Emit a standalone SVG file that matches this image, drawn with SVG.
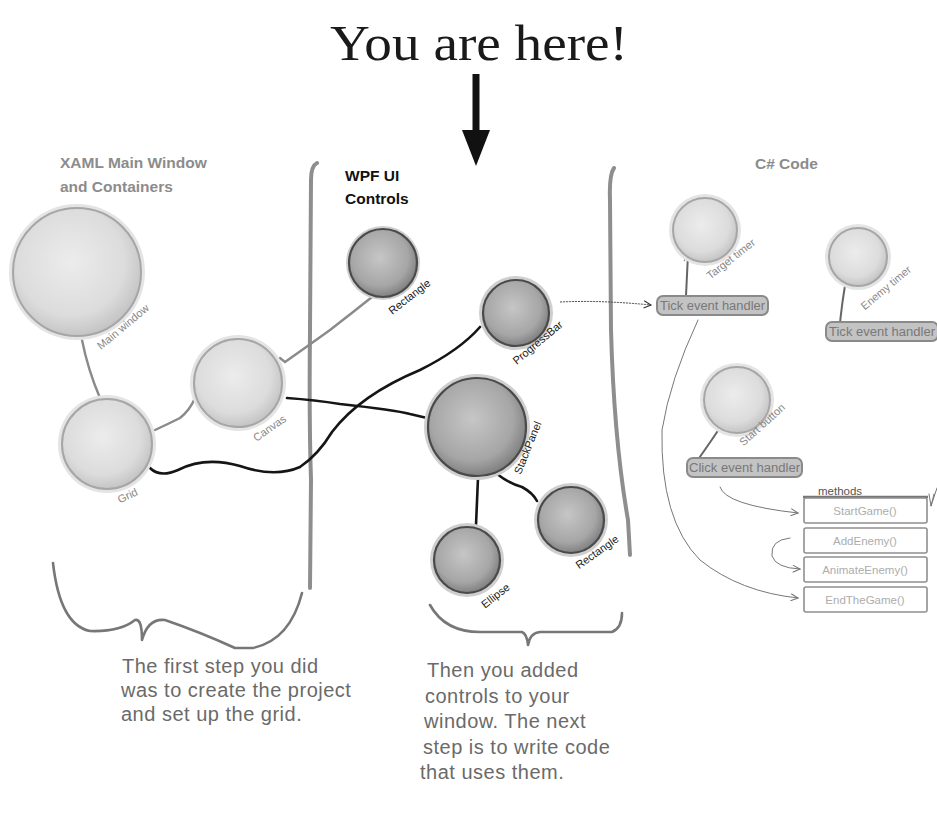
<svg xmlns="http://www.w3.org/2000/svg" width="937" height="815" viewBox="0 0 937 815">
<style>
.title{font-family:"Liberation Serif","Times New Roman",serif;font-size:50px;fill:#1a1a1a}
.hdr{font-family:"Liberation Sans",Arial,sans-serif;font-weight:bold;font-size:15.5px}
.hg{fill:#8c8c8c}
.hk{fill:#111}
.lbl{font-family:"Liberation Sans",Arial,sans-serif;font-size:11px;text-anchor:middle}
.lg{fill:#888}
.lk{fill:#1a1a1a}
.note{font-family:"Liberation Sans",Arial,sans-serif;font-size:20px;fill:#6a6a6a;letter-spacing:0.5px}
.halo{fill:#e4e4e4}
.light{fill:url(#lightG);stroke:#a6a6a6;stroke-width:2}
.dhalo{fill:#cfcfcf}
.dark{fill:url(#darkG);stroke:#4a4a4a;stroke-width:2.2}
.div{fill:none;stroke:#8e8e8e;stroke-width:4;stroke-linecap:round}
.brace{fill:none;stroke:#777;stroke-width:2.6;stroke-linecap:round;stroke-linejoin:round}
.cg{fill:none;stroke:#8a8a8a;stroke-width:2.4;stroke-linecap:round}
.ck{fill:none;stroke:#151515;stroke-width:2.6;stroke-linecap:round}
.cd{fill:none;stroke:#666;stroke-width:2;stroke-linecap:round}
.thin{fill:none;stroke:#777;stroke-width:1;stroke-linecap:round}
.hbox{fill:#c3c3c3;stroke:#8a8a8a;stroke-width:2}
.htxt{font-family:"Liberation Sans",Arial,sans-serif;font-size:12.5px;fill:#787878}
.mbox{fill:#fff;stroke:#8f8f8f;stroke-width:1.6}
.mtxt{font-family:"Liberation Sans",Arial,sans-serif;font-size:11.5px;fill:#adadad;text-anchor:middle}
</style>
<defs>
<radialGradient id="lightG" cx="45%" cy="42%" r="60%">
<stop offset="0" stop-color="#ececec"/>
<stop offset="0.7" stop-color="#dcdcdc"/>
<stop offset="1" stop-color="#c2c2c2"/>
</radialGradient>
<radialGradient id="darkG" cx="45%" cy="42%" r="60%">
<stop offset="0" stop-color="#c6c6c6"/>
<stop offset="0.7" stop-color="#a6a6a6"/>
<stop offset="1" stop-color="#7c7c7c"/>
</radialGradient>
<marker id="openArr" viewBox="0 0 10 10" refX="9" refY="5" markerWidth="9" markerHeight="9" orient="auto" markerUnits="userSpaceOnUse">
<path d="M1,1 L9,5 L1,9" fill="none" stroke="#777" stroke-width="1.2"/>
</marker>
<marker id="openArrK" viewBox="0 0 10 10" refX="9" refY="5" markerWidth="9" markerHeight="9" orient="auto" markerUnits="userSpaceOnUse">
<path d="M1,1 L9,5 L1,9" fill="none" stroke="#333" stroke-width="1.2"/>
</marker>
</defs>
<rect width="937" height="815" fill="#fff"/>

<g id="title">
<text class="title" x="330" y="60" textLength="298" lengthAdjust="spacingAndGlyphs">You are here!</text>
<line x1="476" y1="74" x2="476" y2="134" stroke="#111" stroke-width="7"/>
<polygon points="462,130 490,130 476,166" fill="#111"/>
</g>

<g id="headers">
<text class="hdr hg" x="60" y="168">XAML Main Window</text>
<text class="hdr hg" x="60" y="192">and Containers</text>
<text class="hdr hk" x="345" y="181">WPF UI</text>
<text class="hdr hk" x="345" y="204">Controls</text>
<text class="hdr hg" x="755" y="169">C# Code</text>
</g>

<g id="dividers">
<path class="div" d="M317,163 Q311,166 311,180 L310,330 Q309,420 311,480 L310,588"/>
<path class="div" d="M614,168 Q609,175 610,200 L611,330 Q614,440 628,520 L630,555"/>
<path class="brace" d="M53,563 Q60,625 90,631 Q120,632 135,620 Q142,618 142,640 Q148,618 165,620 Q200,632 235,648 L253,648 Q290,640 302,593"/>
<path class="brace" d="M430,605 Q445,632 480,632 L522,632 Q527,634 528,645 Q530,633 540,632 L612,632 Q622,628 622,613"/>
</g>

<g id="connectors">
<path class="cg" d="M82,340 Q88,370 100,398"/>
<path class="cg" d="M155,430 Q168,424 180,418 Q190,410 195,398"/>
<path class="cg" d="M280,358 L285,362 Q305,348 330,330 Q352,313 372,297"/>
<path class="ck" d="M287,398 Q315,400 340,404 Q395,410 410,414 L427,418"/>
<path class="ck" d="M150,468 Q160,478 178,470 Q205,456 240,466 Q275,478 300,467 Q318,455 332,432 Q360,395 420,370 Q460,350 480,327"/>
<path class="ck" d="M478,478 L476,525"/>
<path class="ck" d="M497,474 Q510,484 522,487 Q533,493 537,501"/>
<path fill="none" stroke="#444" stroke-width="1" stroke-dasharray="2,1" d="M560,302 Q600,300 651,305" marker-end="url(#openArrK)"/>
<path class="cd" d="M700,308 Q688,305 686,296 L688,254" marker-end="url(#openArr)"/>
<path class="cd" d="M839,333 Q842,300 847,275"/>
<path class="cd" d="M697,461 Q712,440 729,414"/>
<path class="thin" d="M698,320 Q670,380 662,430 Q660,520 700,560 Q740,592 798,598" marker-end="url(#openArr)"/>
<path class="thin" d="M720,487 Q725,505 798,513" marker-end="url(#openArr)"/>
<path class="thin" d="M790,538 Q770,540 772,556 Q776,568 800,569" marker-end="url(#openArr)"/>
<path class="thin" d="M937,488 L931,506 L929,494 M931,506 L934,494"/>
</g>

<g id="node-main-window">
<circle class="halo" cx="77" cy="272" r="68"/>
<circle class="light" cx="77" cy="272" r="64"/>
<text class="lbl lg" transform="translate(119,322) rotate(-40)" dy="10">Main window</text>
</g>
<g id="node-grid">
<circle class="halo" cx="107" cy="444" r="49"/>
<circle class="light" cx="107" cy="444" r="45"/>
<text class="lbl lg" transform="translate(125,490) rotate(-25)" dy="10">Grid</text>
</g>
<g id="node-canvas">
<circle class="halo" cx="238" cy="383" r="48"/>
<circle class="light" cx="238" cy="383" r="44"/>
<text class="lbl lg" transform="translate(266,423) rotate(-35)" dy="10">Canvas</text>
</g>

<g id="node-rectangle-top">
<circle class="dhalo" cx="383" cy="263" r="37"/>
<circle class="dark" cx="383" cy="263" r="34"/>
<text class="lbl lk" transform="translate(405,291) rotate(-38)" dy="11">Rectangle</text>
</g>
<g id="node-progressbar">
<circle class="dhalo" cx="516" cy="313" r="37"/>
<circle class="dark" cx="516" cy="313" r="33"/>
<text class="lbl lk" transform="translate(533,337) rotate(-40)" dy="11">ProgressBar</text>
</g>
<g id="node-stackpanel">
<circle class="dhalo" cx="477" cy="427" r="53"/>
<circle class="dark" cx="477" cy="427" r="49"/>
<text class="lbl lk" transform="translate(521,445) rotate(-68)" dy="11">StackPanel</text>
</g>
<g id="node-rectangle-bottom">
<circle class="dhalo" cx="571" cy="520" r="37"/>
<circle class="dark" cx="571" cy="520" r="33"/>
<text class="lbl lk" transform="translate(593,546) rotate(-35)" dy="11">Rectangle</text>
</g>
<g id="node-ellipse">
<circle class="dhalo" cx="467" cy="560" r="37"/>
<circle class="dark" cx="467" cy="560" r="33"/>
<text class="lbl lk" transform="translate(491,590) rotate(-38)" dy="11">Ellipse</text>
</g>

<g id="node-target-timer">
<circle class="halo" cx="705" cy="230" r="36"/>
<circle class="light" cx="705" cy="230" r="32"/>
<text class="lbl lg" transform="translate(727,254) rotate(-38)" dy="10">Target timer</text>
</g>
<g id="node-tick-handler-1">
<rect class="hbox" x="657" y="296" width="111" height="19" rx="6"/>
<text class="htxt" x="660" y="310" textLength="105" lengthAdjust="spacingAndGlyphs">Tick event handler</text>
</g>
<g id="node-enemy-timer">
<circle class="halo" cx="858" cy="257" r="33"/>
<circle class="light" cx="858" cy="257" r="29"/>
<text class="lbl lg" transform="translate(882,283) rotate(-40)" dy="10">Enemy timer</text>
</g>
<g id="node-tick-handler-2">
<rect class="hbox" x="826" y="322" width="112" height="19" rx="6"/>
<text class="htxt" x="829" y="336" textLength="106" lengthAdjust="spacingAndGlyphs">Tick event handler</text>
</g>
<g id="node-start-button">
<circle class="halo" cx="737" cy="400" r="37"/>
<circle class="light" cx="737" cy="400" r="33"/>
<text class="lbl lg" transform="translate(758,420) rotate(-42)" dy="10">Start button</text>
</g>
<g id="node-click-handler">
<rect class="hbox" x="687" y="458" width="115" height="19" rx="6"/>
<text class="htxt" x="689" y="472" textLength="111" lengthAdjust="spacingAndGlyphs">Click event handler</text>
</g>

<g id="node-methods">
<text x="818" y="495" font-family="Liberation Sans, Arial, sans-serif" font-size="11.5" fill="#555">methods</text>
<line x1="803" y1="497" x2="928" y2="497" stroke="#777" stroke-width="2.4"/>
<rect class="mbox" x="804" y="498" width="123" height="25" rx="2"/>
<text class="mtxt" x="865" y="515">StartGame()</text>
<rect class="mbox" x="804" y="528" width="123" height="25" rx="2"/>
<text class="mtxt" x="865" y="545">AddEnemy()</text>
<rect class="mbox" x="804" y="557" width="123" height="25" rx="2"/>
<text class="mtxt" x="865" y="574">AnimateEnemy()</text>
<rect class="mbox" x="804" y="587" width="123" height="25" rx="2"/>
<text class="mtxt" x="865" y="604">EndTheGame()</text>
</g>

<g id="note-left">
<text class="note" x="122" y="673">The first step you did</text>
<text class="note" x="121" y="697">was to create the project</text>
<text class="note" x="121" y="721">and set up the grid.</text>
</g>
<g id="note-middle">
<text class="note" x="427" y="677">Then you added</text>
<text class="note" x="425" y="703">controls to your</text>
<text class="note" x="424" y="728">window. The next</text>
<text class="note" x="423" y="754">step is to write code</text>
<text class="note" x="420" y="779">that uses them.</text>
</g>
</svg>
